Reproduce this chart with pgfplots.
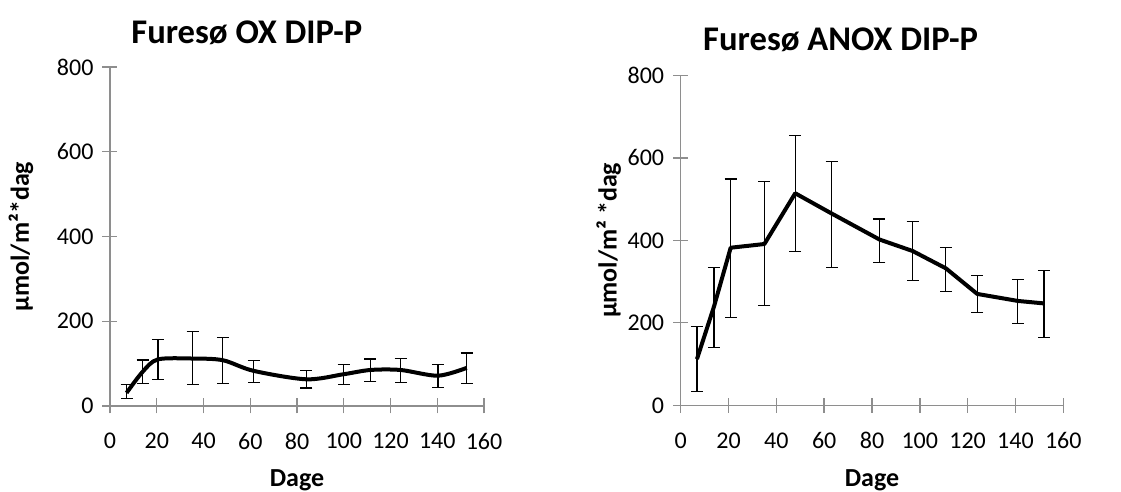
\documentclass[border=0pt]{standalone}
\usepackage{fontspec}
\setmainfont{Carlito}
\usepackage{pgfplots}
\usepackage{pgfplotstable}
\pgfplotsset{compat=1.18}

\definecolor{axisGray}{HTML}{8E8E8E}

% day, mean, error up, error down
\pgfplotstableread{
x     y     ep    em
7.1   31    20    14
14    81    27.5  28
20.5  110   47    47
35.4  112   63    62
48.3  108   53    54
61.4  83    25    27
84    63    20    20.5
100   75    22    25
111.4 85    26    28
124.3 85    27.5  29
140.3 71.5  27    28
152.6 90    35    36
}\oxdata

\pgfplotstableread{
x     y     ep    em
6.8   112   79.5  78
13.9  239   94.6  98.4
20.9  382   166.6 169
35    391   151   149.5
47.9  514   139.6 141
63.1  465   126.5 131.4
83.1  402   49.6  55
97    374   71    72
110.9 332   50    57
124   270   45    46
141   253   52.5  54
151.9 247   80    83
}\anoxdata

\pgfplotsset{
  panel/.style={
    scale only axis, anchor=south west, clip=false,
    xmin=0, xmax=160, ymin=0, ymax=800,
    xtick={0,20,...,160}, ytick={0,200,...,800},
    axis lines=left,
    axis line style={-, draw=axisGray, line width=0.7pt},
    tick style={draw=axisGray, line width=0.7pt},
    tick align=center, major tick length=7.5pt,
    tick label style={font=\fontsize{12}{14}\selectfont, text=black},
    /pgf/number format/assume math mode=true,
    xticklabel style={anchor=north, yshift=-6.3pt},
    yticklabel style={anchor=east, xshift=-1pt},
    title style={font=\fontsize{17.3}{20}\selectfont\bfseries, anchor=base},
    label style={font=\fontsize{13}{15}\selectfont\bfseries},
    xlabel style={at={(axis description cs:0.5,0)}, anchor=base},
    ylabel style={at={(axis description cs:0,0.5)}, anchor=base},
  },
  meanline/.style={black, line width=2pt, line join=round, mark=none,
    error bars/.cd, y dir=both, y explicit,
    error bar style={line width=0.6pt, black},
    error mark options={rotate=90, mark size=3pt, line width=0.6pt, black},
    /pgfplots/.cd},
}

\begin{document}
\begin{tikzpicture}
\useasboundingbox (0,0) rectangle (560.5pt,246pt);

\begin{axis}[panel, at={(55pt,43pt)}, width=187pt, height=169.5pt,
  title={Furesø OX DIP-P},
  title style={at={(axis description cs:0.366,1)}, yshift=6pt},
  xlabel={Dage}, xlabel style={yshift=-40.3pt},
  ylabel={µmol/m²*dag}, ylabel style={yshift=40.5pt}]
\addplot[smooth, meanline] table[x=x, y=y, y error plus=ep, y error minus=em] {\oxdata};
\end{axis}

\begin{axis}[panel, at={(340.35pt,43.35pt)}, width=191.3pt, height=165pt,
  title={Furesø ANOX DIP-P},
  title style={at={(axis description cs:0.418,1)}, yshift=6.5pt},
  xlabel={Dage}, xlabel style={yshift=-40.6pt},
  ylabel={µmol/m² *dag}, ylabel style={yshift=32pt}]
\addplot[meanline] table[x=x, y=y, y error plus=ep, y error minus=em] {\anoxdata};
\end{axis}
\end{tikzpicture}
\end{document}
